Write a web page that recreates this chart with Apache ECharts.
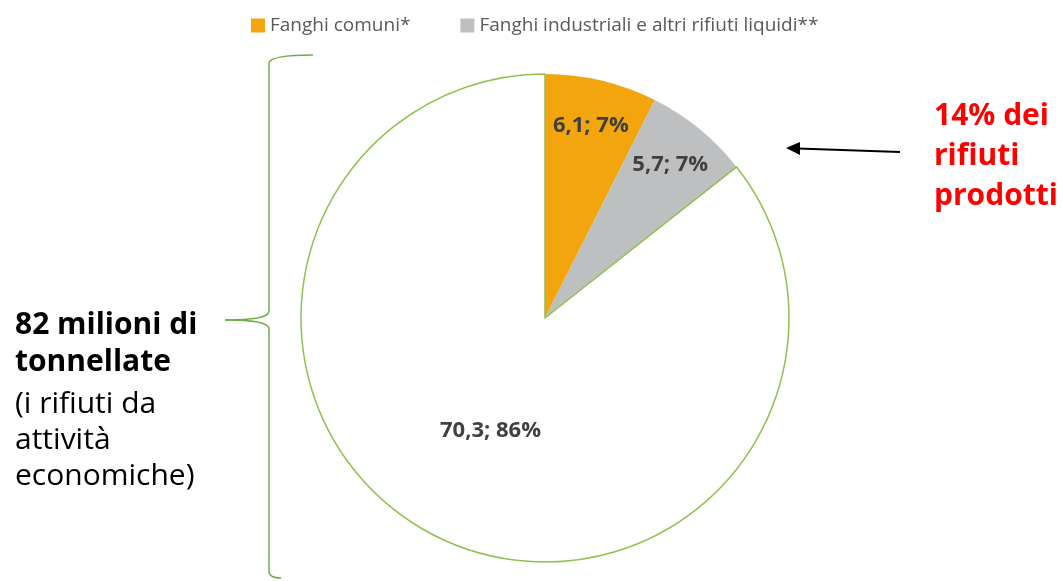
<!DOCTYPE html>
<html>
<head>
<meta charset="utf-8">
<script src="https://cdn.jsdelivr.net/npm/echarts@6/dist/echarts.min.js"></script>
<style>
  html, body { margin: 0; padding: 0; background: #fff; }
  #chart { width: 1063px; height: 581px; }
</style>
</head>
<body>
<div id="chart"></div>
<script>
// categorie e valori (milioni di tonnellate)
const categories = ['Fanghi comuni*', 'Fanghi industriali e altri rifiuti liquidi**', 'Altri rifiuti'];
const values = [6.1, 5.7, 70.3];
const colors = ['#F2A50C', '#BEBFC1', '#FFFFFF'];
const inLegend = [true, true, false];

const FONT = '"Open Sans", "Noto Sans", sans-serif';
const GREEN = '#70AD47';

const labelFmt = p => String(p.value).replace('.', ',') + '; ' + Math.round(p.percent) + '%';

const chart = echarts.init(document.getElementById('chart'));

const mainData = categories.map((name, i) => ({
    name: name,
    value: values[i],
    itemStyle: {
        color: colors[i],
        borderColor: i === 2 ? '#92C050' : colors[i],
        borderWidth: i === 2 ? 1.5 : 0
    },
    label: { show: i === 2 }
}));

// serie sovrapposta solo per le etichette delle fette piccole (più vicine al bordo)
const labelData = categories.map((name, i) => ({
    name: name,
    value: values[i],
    label: { show: i !== 2 }
}));

const labelStyle = {
    position: 'inside',
    formatter: labelFmt,
    fontFamily: FONT,
    fontWeight: 'bold',
    fontSize: 22,
    color: '#404040'
};

// pezzi della parentesi graffa
const curve = (x1, y1, cpx1, cpy1, cpx2, cpy2, x2, y2) => ({
    type: 'bezierCurve',
    shape: { x1, y1, cpx1, cpy1, cpx2, cpy2, x2, y2 },
    style: { fill: null, stroke: GREEN, lineWidth: 1.5 }
});
const seg = (x1, y1, x2, y2) => ({
    type: 'line',
    shape: { x1, y1, x2, y2 },
    style: { stroke: GREEN, lineWidth: 1.5 }
});

const option = {
    backgroundColor: '#fff',
    animation: false,
    legend: {
        top: 11,
        left: 246,
        icon: 'rect',
        itemWidth: 14,
        itemHeight: 14,
        itemGap: 50,
        textStyle: { fontFamily: FONT, fontSize: 19, color: '#595959' },
        data: categories.filter((c, i) => inLegend[i])
    },
    series: [
        {
            type: 'pie',
            center: [545, 318],
            radius: [0, 244],
            startAngle: 90,
            clockwise: true,
            silent: true,
            label: labelStyle,
            labelLine: { show: false },
            data: mainData
        },
        {
            type: 'pie',
            center: [545, 318],
            radius: [146, 244],
            startAngle: 90,
            clockwise: true,
            silent: true,
            itemStyle: { color: 'rgba(0,0,0,0)', borderWidth: 0 },
            label: labelStyle,
            labelLine: { show: false },
            data: labelData
        }
    ],
    graphic: [
        curve(313, 55, 292, 55, 270, 56, 269, 63),
        seg(269, 63, 269, 311),
        curve(269, 311, 269, 318, 252, 320, 225, 320),
        curve(225, 320, 252, 320, 269, 322, 269, 329),
        seg(269, 329, 269, 571),
        curve(269, 571, 269, 577, 276, 578, 281, 578),
        {
            type: 'text',
            left: 15,
            top: 307,
            style: {
                text: '82 milioni di\ntonnellate',
                font: 'bold 30px ' + FONT,
                lineHeight: 37,
                fill: '#000'
            }
        },
        {
            type: 'text',
            left: 15,
            top: 386,
            style: {
                text: '(i rifiuti da\nattività\neconomiche)',
                font: '30px ' + FONT,
                lineHeight: 36,
                fill: '#000'
            }
        },
        // freccia
        {
            type: 'line',
            shape: { x1: 900, y1: 152, x2: 798, y2: 148.5 },
            style: { stroke: '#000', lineWidth: 2 }
        },
        {
            type: 'polygon',
            shape: { points: [[786, 148], [800, 142], [800, 155]] },
            style: { fill: '#000' }
        },
        {
            type: 'text',
            left: 934,
            top: 96,
            style: {
                text: '14% dei\nrifiuti\nprodotti',
                font: 'bold 30px ' + FONT,
                lineHeight: 40,
                fill: '#FF0000'
            }
        }
    ]
};

chart.setOption(option);

window.addEventListener('resize', () => {
    chart.resize();
});
</script>
</body>
</html>
